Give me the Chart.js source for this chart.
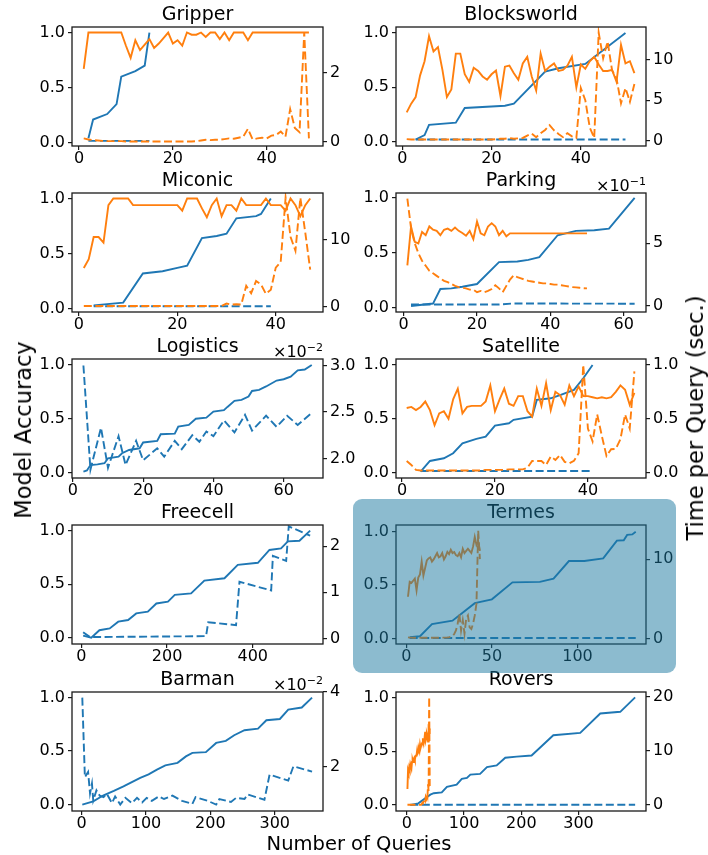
<!DOCTYPE html>
<html><head><meta charset="utf-8">
<script src="https://cdn.jsdelivr.net/npm/chart.js@4.4.0/dist/chart.umd.min.js"></script>
<style>
html,body{margin:0;padding:0;background:#fff;}
body{width:708px;height:855px;position:relative;overflow:hidden;font-family:"DejaVu Sans",sans-serif;}
canvas{position:absolute;}
.lbl{position:absolute;color:#000;white-space:nowrap;transform:translate(-50%,-50%);}
.rot{transform:translate(-50%,-50%) rotate(-90deg);}
#hl{position:absolute;left:353px;top:499px;width:323px;height:174px;border-radius:9px;background:rgba(25,120,160,0.5);}
</style></head><body>
<script>
// ---------------- DATA ----------------
const accTicks = [0, 0.5, 1.0];

// Gripper
const gripperXTicks = [0, 20, 40];
const gripperTimeTicks = [0, 2];
const gripperOrangeAcc = [0.67,1.0,1.0,1.0,1.0,1.0,1.0,1.0,1.0,0.88,0.77,0.93,0.84,0.89,0.94,0.86,0.90,0.95,1.0,0.90,0.93,0.88,1.0,0.98,0.98,1.0,0.96,1.0,1.0,0.94,1.0,0.93,1.0,1.0,1.0,0.93,1.0,1.0,1.0,1.0,1.0,1.0,1.0,1.0,1.0,1.0,1.0,1.0,1.0];
const gripperOrangeTime = [0.10,0.07,0.05,0.04,0.03,0.02,0.02,0.02,0.02,0.01,0.01,0.01,0.01,0.01,0.01,0.01,0.01,0.01,0.01,0.01,0.01,0.01,0.01,0.01,0.02,0.04,0.06,0.05,0.06,0.06,0.08,0.10,0.09,0.12,0.15,0.38,0.07,0.10,0.12,0.10,0.18,0.20,0.30,0.15,0.95,0.40,0.28,3.17,0.10];
const gripperBlueAccX = [2,3,6,8,9,12,14,15];
const gripperBlueAccY = [0.04,0.21,0.26,0.35,0.60,0.65,0.70,1.0];
const gripperBlueTimeX = [2,15];
const gripperBlueTimeY = [0.03,0.03];

// Blocksworld
const bwXTicks = [0, 20, 40];
const bwTimeTicks = [0, 5, 10];
const bwOrangeAcc = [0.27,0.35,0.41,0.61,0.74,0.97,0.83,0.87,0.66,0.41,0.48,0.81,0.81,0.62,0.55,0.68,0.65,0.60,0.57,0.62,0.655,0.42,0.69,0.70,0.63,0.57,0.72,0.78,0.60,0.47,0.81,0.65,0.69,0.72,0.65,0.66,0.70,0.78,0.50,0.71,0.67,0.74,0.78,0.71,0.65,0.65,0.66,0.55,0.89,0.72,0.74,0.63];
const bwOrangeTime = [0.15,0.1,0.1,0.1,0.1,0.1,0.1,0.1,0.1,0.1,0.1,0.1,0.1,0.1,0.1,0.1,0.1,0.1,0.1,0.1,0.15,0.2,0.2,0.3,0.2,0.25,0.3,0.6,0.85,0.4,0.9,1.3,1.9,1.25,0.8,0.4,0.9,0.5,0.3,6.5,5.0,1.6,0.3,13.4,10.2,12.3,8.7,7.7,4.6,6.5,4.8,7.0];
const bwBlueAccX = [3,5,6,12,14,23,25,32,35,41,50];
const bwBlueAccY = [0.02,0.06,0.155,0.175,0.31,0.33,0.35,0.645,0.675,0.715,1.0];
const bwBlueTimeX = [3,50];
const bwBlueTimeY = [0.1,0.1];

// Miconic
const micXTicks = [0, 20, 40];
const micTimeTicks = [0, 10];
const micOrangeAcc = [0.37,0.45,0.65,0.65,0.60,0.94,1.0,1.0,1.0,1.0,0.94,0.94,0.94,0.94,0.94,0.94,0.94,0.94,0.94,0.94,0.89,1.0,1.0,1.0,0.91,0.83,0.94,1.0,0.84,0.94,0.94,0.89,1.0,0.94,0.94,0.94,0.94,1.0,0.94,0.94,0.94,0.89,1.0,0.94,0.84,0.94,1.0];
const micOrangeTime = [0.1,0.1,0.1,0.1,0.1,0.1,0.1,0.1,0.1,0.1,0.1,0.1,0.1,0.1,0.1,0.1,0.1,0.1,0.1,0.1,0.1,0.1,0.1,0.1,0.1,0.1,0.1,0.1,0.1,0.45,0.3,0.35,0.3,3.1,2.0,3.8,3.3,1.9,2.5,5.8,6.6,16.2,10.4,8.3,16.2,11.0,5.5];
const micBlueAccX = [3,9,13,17,20,22,25,28,30,32,36,37,39];
const micBlueAccY = [0.03,0.055,0.32,0.34,0.37,0.39,0.64,0.66,0.68,0.82,0.84,0.86,1.0];
const micBlueTimeX = [3,39];
const micBlueTimeY = [0.05,0.05];

// Parking
const parkXTicks = [0, 20, 40, 60];
const parkTimeTicks = [0, 0.5];
const parkOrangeAcc = [0.385,0.74,0.60,0.585,0.69,0.66,0.74,0.71,0.70,0.66,0.71,0.72,0.70,0.73,0.70,0.68,0.655,0.70,0.625,0.785,0.677,0.66,0.74,0.77,0.74,0.66,0.70,0.65,0.677,0.677,0.677,0.677,0.677,0.677,0.677,0.677,0.677,0.677,0.677,0.677,0.677,0.677,0.677,0.677,0.677,0.677,0.677,0.677,0.677,0.677];
const parkOrangeTime = [0.855,0.62,0.50,0.42,0.36,0.32,0.28,0.26,0.24,0.22,0.20,0.19,0.175,0.16,0.15,0.145,0.14,0.13,0.13,0.11,0.12,0.11,0.12,0.135,0.165,0.14,0.11,0.16,0.21,0.245,0.23,0.22,0.21,0.20,0.195,0.19,0.185,0.18,0.18,0.175,0.17,0.17,0.165,0.16,0.155,0.15,0.148,0.145,0.142,0.14];
const parkBlueAccX = [2,8,10,13,16,20,26,31,34,37,42,47,52,56,63];
const parkBlueAccY = [0.015,0.037,0.17,0.175,0.19,0.215,0.415,0.42,0.435,0.46,0.66,0.70,0.705,0.72,1.0];
const parkBlueTimeX = [2,26,30,63];
const parkBlueTimeY = [0.012,0.012,0.02,0.018];

// Logistics
const logXTicks = [0, 20, 40, 60];
const logTimeTicks = [0.02, 0.025, 0.03];
const logBlueAccX = [3,4,5,7,9,10,13,14,16,19,20,24,25,29,30,33,35,38,40,43,44,46,48,50,51,53,55,58,60,62,64,66,68];
const logBlueAccY = [0.01,0.02,0.07,0.077,0.087,0.133,0.149,0.18,0.21,0.226,0.28,0.294,0.356,0.362,0.427,0.443,0.5,0.51,0.567,0.58,0.61,0.666,0.675,0.706,0.758,0.768,0.80,0.855,0.867,0.89,0.95,0.957,1.0];
const logBlueTimeX = [3,5,8,10,13,15,18,20,24,26,29,31,34,36,38,40,43,46,49,51,55,58,61,64,68];
const logBlueTimeY = [0.0300,0.0188,0.0233,0.0190,0.0224,0.0193,0.0219,0.0198,0.0211,0.0202,0.0219,0.0210,0.0225,0.0218,0.0229,0.0224,0.0241,0.0228,0.0247,0.0230,0.0246,0.0234,0.0246,0.0236,0.0249];

// Satellite
const satXTicks = [0, 20, 40];
const satTimeTicks = [0, 0.5, 1.0];
const satOrangeAcc = [0.60,0.61,0.58,0.61,0.66,0.58,0.44,0.55,0.57,0.50,0.68,0.78,0.55,0.61,0.62,0.62,0.62,0.66,0.81,0.57,0.68,0.78,0.64,0.62,0.71,0.71,0.57,0.52,0.78,0.62,0.83,0.58,0.75,0.72,0.63,0.81,0.71,0.80,0.71,0.71,0.70,0.69,0.70,0.69,0.70,0.75,0.81,0.77,0.63,0.74];
const satOrangeTime = [0.108,0.071,0.025,0.02,0.02,0.02,0.02,0.02,0.02,0.02,0.02,0.02,0.02,0.02,0.02,0.02,0.02,0.025,0.025,0.025,0.025,0.025,0.03,0.03,0.03,0.03,0.046,0.108,0.108,0.108,0.071,0.149,0.118,0.164,0.10,0.087,0.11,0.18,1.0,0.41,0.29,0.54,0.34,0.155,0.217,0.22,0.31,0.54,0.41,0.94];
const satBlueAccX = [4,6,9,11,13,16,18,20,23,24,28,29,32,34,37,39,41];
const satBlueAccY = [0.01,0.108,0.133,0.18,0.272,0.313,0.334,0.437,0.458,0.49,0.52,0.675,0.69,0.72,0.768,0.876,1.0];
const satBlueTimeX = [4,41];
const satBlueTimeY = [0.015,0.015];

// Freecell
const fcXTicks = [0, 200, 400];
const fcTimeTicks = [0, 1, 2];
const fcBlueAccX = [4,23,42,66,86,109,128,155,175,202,218,256,287,334,365,412,439,466,482,509,534];
const fcBlueAccY = [0.02,0.0,0.07,0.087,0.15,0.165,0.227,0.243,0.32,0.336,0.40,0.414,0.533,0.555,0.68,0.70,0.82,0.835,0.90,0.906,1.0];
const fcBlueTimeX = [4,20,291,296,361,369,443,447,478,484,534];
const fcBlueTimeY = [0.135,0.03,0.05,0.35,0.29,1.23,1.04,1.79,1.68,2.43,2.23];

// Termes
const termXTicks = [0, 50, 100];
const termTimeTicks = [0, 10];
const termOrangeAcc = [0.39,0.53,0.52,0.54,0.56,0.45,0.57,0.60,0.72,0.59,0.66,0.73,0.75,0.76,0.72,0.74,0.77,0.80,0.76,0.77,0.80,0.74,0.77,0.81,0.79,0.83,0.80,0.81,0.78,0.77,0.80,0.76,0.84,0.80,0.82,0.84,0.82,0.80,0.86,0.95,0.875,0.906,0.82];
const termOrangeTime = [0.13,0.1,0.1,0.08,0.08,0.08,0.08,0.08,0.08,0.08,0.08,0.08,0.08,0.08,0.08,0.08,0.08,0.08,0.08,0.08,0.1,0.1,0.1,0.12,0.15,0.2,0.3,0.56,1.0,1.85,3.1,1.0,2.3,0.6,2.5,2.9,1.4,1.2,1.85,2.9,4.4,13.6,10.0];
const termBlueAccX = [2,8,15,27,40,50,62,78,86,95,104,115,123,127,129,132,134];
const termBlueAccY = [0.01,0.02,0.134,0.166,0.33,0.366,0.525,0.53,0.56,0.725,0.725,0.75,0.916,0.92,0.97,0.975,1.0];
const termBlueTimeX = [2,134];
const termBlueTimeY = [0.05,0.05];

// Barman
const barXTicks = [0, 100, 200, 300];
const barTimeTicks = [0.02, 0.04];
const barBlueAccX = [1,18,34,50,65,78,91,104,117,130,149,162,172,193,209,224,237,253,274,287,308,321,342,358];
const barBlueAccY = [0.0,0.03,0.087,0.128,0.17,0.21,0.25,0.283,0.327,0.367,0.39,0.45,0.483,0.49,0.576,0.595,0.648,0.695,0.71,0.788,0.80,0.888,0.907,1.0];
const barBlueTimeX = [1,5,10,13,16,18,23,28,34,39,47,52,60,68,78,86,94,101,109,120,128,141,156,172,177,196,209,214,232,240,253,258,284,292,321,329,358];
const barBlueTimeY = [0.0385,0.0173,0.0187,0.0130,0.0156,0.0111,0.0138,0.0124,0.0120,0.0129,0.0104,0.0122,0.0100,0.0118,0.0104,0.0118,0.0106,0.0118,0.0110,0.0122,0.0115,0.0124,0.0110,0.0102,0.0120,0.0110,0.0100,0.0115,0.0107,0.0118,0.0115,0.0127,0.0113,0.0180,0.0164,0.0202,0.0188];

// Rovers
const rovXTicks = [0, 100, 200, 300];
const rovTimeTicks = [0, 10, 20];
const rovOrangeAcc = [0.15,0.32,0.30,0.35,0.33,0.38,0.36,0.34,0.40,0.42,0.40,0.43,0.44,0.42,0.45,0.46,0.47,0.51,0.48,0.49,0.52,0.50,0.56,0.53,0.55,0.55,0.58,0.62,0.57,0.59,0.63,0.68,0.60,0.62,0.66,0.64,0.59,0.69,0.67,0.71];
const rovOrangeTime = [0.05,0.05,0.05,0.05,0.05,0.05,0.05,0.05,0.05,0.05,0.05,0.05,0.05,0.05,0.05,0.05,0.05,0.05,0.05,0.05,0.05,0.05,0.05,0.05,0.05,0.2,0.4,0.3,0.6,0.9,1.1,0.8,1.5,1.2,2.0,1.6,3.8,2.6,19.9,3.5];
const rovBlueAccX = [6,20,41,47,61,70,87,96,105,111,128,140,157,172,192,218,256,303,338,373,399];
const rovBlueAccY = [0.0,0.016,0.097,0.11,0.118,0.17,0.19,0.243,0.252,0.283,0.29,0.352,0.368,0.44,0.45,0.46,0.648,0.67,0.85,0.866,1.0];
const rovBlueTimeX = [6,399];
const rovBlueTimeY = [0.05,0.05];

// ---------------- DRAWING ----------------
const FONT = '"DejaVu Sans", sans-serif';
const BLUE = '#1f77b4', ORANGE = '#ff7f0e';
const colL = [72, 396], colR = [323, 646];
const rowT = [27, 193, 359, 525, 692];
const PH = 119;
const LW = 60, RW = 50, TH = 30, BH = 30;

function seq(n){ return Array.from({length:n}, (_, i) => i + 1); }
function S(xs, ys, color, time){ return {xs, ys, color, time}; }
const i0 = v => v.toFixed(0);

const panels = [
 {title:'Gripper', c:0, r:0, xr:[-1.5,52], xt:gripperXTicks, yl:[-0.03,1.05], yr:[-0.12,3.33], yt:gripperTimeTicks, fmt:i0,
  s:[S(seq(gripperOrangeTime.length),gripperOrangeTime,ORANGE,true),S(gripperBlueTimeX,gripperBlueTimeY,BLUE,true),S(seq(gripperOrangeAcc.length),gripperOrangeAcc,ORANGE,false),S(gripperBlueAccX,gripperBlueAccY,BLUE,false)]},
 {title:'Blocksworld', c:1, r:0, xr:[-1.4,54.6], xt:bwXTicks, yl:[-0.04,1.055], yr:[-0.7,14.1], yt:bwTimeTicks, fmt:i0,
  s:[S(seq(bwOrangeTime.length),bwOrangeTime,ORANGE,true),S(bwBlueTimeX,bwBlueTimeY,BLUE,true),S(seq(bwOrangeAcc.length),bwOrangeAcc,ORANGE,false),S(bwBlueAccX,bwBlueAccY,BLUE,false)]},
 {title:'Miconic', c:0, r:1, xr:[-1.4,49.6], xt:micXTicks, yl:[-0.03,1.05], yr:[-0.8,16.9], yt:micTimeTicks, fmt:i0,
  s:[S(seq(micOrangeTime.length),micOrangeTime,ORANGE,true),S(micBlueTimeX,micBlueTimeY,BLUE,true),S(seq(micOrangeAcc.length),micOrangeAcc,ORANGE,false),S(micBlueAccX,micBlueAccY,BLUE,false)]},
 {title:'Parking', c:1, r:1, xr:[-2.1,66.1], xt:parkXTicks, yl:[-0.04,1.045], yr:[-0.048,0.90], yt:parkTimeTicks, fmt:v=>(v*10).toFixed(0), exp:'\u22121',
  s:[S(seq(parkOrangeTime.length),parkOrangeTime,ORANGE,true),S(parkBlueTimeX,parkBlueTimeY,BLUE,true),S(seq(parkOrangeAcc.length),parkOrangeAcc,ORANGE,false),S(parkBlueAccX,parkBlueAccY,BLUE,false)]},
 {title:'Logistics', c:0, r:2, xr:[-0.25,71.2], xt:logXTicks, yl:[-0.05,1.055], yr:[0.0179,0.0307], yt:logTimeTicks, fmt:v=>(v*100).toFixed(1), exp:'\u22122',
  s:[S(logBlueTimeX,logBlueTimeY,BLUE,true),S(logBlueAccX,logBlueAccY,BLUE,false)]},
 {title:'Satellite', c:1, r:2, xr:[-1.3,52.5], xt:satXTicks, yl:[-0.05,1.055], yr:[-0.05,1.055], yt:satTimeTicks, fmt:v=>v.toFixed(1),
  s:[S(seq(satOrangeTime.length),satOrangeTime,ORANGE,true),S(satBlueTimeX,satBlueTimeY,BLUE,true),S(seq(satOrangeAcc.length),satOrangeAcc,ORANGE,false),S(satBlueAccX,satBlueAccY,BLUE,false)]},
 {title:'Freecell', c:0, r:3, xr:[-22,564], xt:fcXTicks, yl:[-0.059,1.053], yr:[-0.12,2.46], yt:fcTimeTicks, fmt:i0,
  s:[S(fcBlueTimeX,fcBlueTimeY,BLUE,true),S(fcBlueAccX,fcBlueAccY,BLUE,false)]},
 {title:'Termes', c:1, r:3, xr:[-6,140], xt:termXTicks, yl:[-0.053,1.063], yr:[-0.7,14.3], yt:termTimeTicks, fmt:i0,
  s:[S(seq(termOrangeTime.length),termOrangeTime,ORANGE,true),S(termBlueTimeX,termBlueTimeY,BLUE,true),S(seq(termOrangeAcc.length),termOrangeAcc,ORANGE,false),S(termBlueAccX,termBlueAccY,BLUE,false)]},
 {title:'Barman', c:0, r:4, xr:[-15,375], xt:barXTicks, yl:[-0.06,1.052], yr:[0.0083,0.0400001], yt:barTimeTicks, fmt:v=>(v*100).toFixed(0), exp:'\u22122',
  s:[S(barBlueTimeX,barBlueTimeY,BLUE,true),S(barBlueAccX,barBlueAccY,BLUE,false)]},
 {title:'Rovers', c:1, r:4, xr:[-19,418], xt:rovXTicks, yl:[-0.055,1.05], yr:[-1.1,20.8], yt:rovTimeTicks, fmt:i0,
  s:[S(seq(rovOrangeTime.length),rovOrangeTime,ORANGE,true),S(rovBlueTimeX,rovBlueTimeY,BLUE,true),S(seq(rovOrangeAcc.length),rovOrangeAcc,ORANGE,false),S(rovBlueAccX,rovBlueAccY,BLUE,false)]}
];

const framePlugin = {id:'frame', afterDraw(chart){
  const {ctx, chartArea:a} = chart;
  ctx.save(); ctx.strokeStyle = '#1a1a1a'; ctx.lineWidth = 1.3;
  ctx.strokeRect(a.left, a.top, a.right - a.left, a.bottom - a.top); ctx.restore();
}};
const offsetPlugin = {id:'offset', afterDraw(chart, args, opts){
  if (!opts || !opts.exp) return;
  const {ctx, chartArea:a} = chart;
  ctx.save(); ctx.fillStyle = '#000'; ctx.textBaseline = 'alphabetic'; ctx.textAlign = 'right';
  ctx.font = '11px ' + FONT; const sw = ctx.measureText(opts.exp).width;
  ctx.fillText(opts.exp, a.right, a.top - 8);
  ctx.font = '16px ' + FONT; ctx.fillText('\u00d710', a.right - sw, a.top - 2);
  ctx.restore();
}};

function tickAxis(extra){
  return Object.assign({
    grid:{drawOnChartArea:false, drawTicks:true, tickLength:4, color:'#1a1a1a', lineWidth:1.2},
    border:{display:false},
  }, extra);
}

panels.forEach(p => {
  const L = colL[p.c], R = colR[p.c], T = rowT[p.r];
  const cv = document.createElement('canvas');
  cv.width = R - L + LW + RW; cv.height = PH + TH + BH;
  cv.style.left = (L - LW) + 'px'; cv.style.top = (T - TH) + 'px';
  document.body.appendChild(cv);
  const datasets = p.s.map(s => ({
    data: s.xs.map((x, i) => ({x, y: s.ys[i]})),
    yAxisID: s.time ? 'y1' : 'y',
    borderColor: s.color, backgroundColor: s.color,
    borderWidth: 1.9, borderDash: s.time ? [8, 3.5] : [],
    pointRadius: 0, tension: 0, fill: false
  }));
  new Chart(cv, {
    type: 'line',
    data: {datasets},
    options: {
      responsive: false, animation: false, devicePixelRatio: 1,
      layout: {padding: 0},
      plugins: {
        legend: {display: false}, tooltip: {enabled: false},
        title: {display: true, text: p.title, fullSize: false, color: '#000',
          font: {family: FONT, size: 19, weight: 'normal', lineHeight: 1}, padding: {top: 8.5, bottom: 2.5}},
        offset: {exp: p.exp || null}
      },
      scales: {
        x: tickAxis({type: 'linear', min: p.xr[0], max: p.xr[1],
          afterBuildTicks: s => { s.ticks = p.xt.map(v => ({value: v})); },
          afterFit: s => { s.height = BH; },
          ticks: {color: '#000', font: {family: FONT, size: 16, lineHeight: 1}, padding: 1, maxRotation: 0, autoSkip: false, callback: v => String(v)}}),
        y: tickAxis({type: 'linear', position: 'left', min: p.yl[0], max: p.yl[1],
          afterBuildTicks: s => { s.ticks = accTicks.map(v => ({value: v})); },
          afterFit: s => { s.width = LW; },
          ticks: {color: '#000', font: {family: FONT, size: 16}, padding: 3, autoSkip: false, callback: v => v.toFixed(1)}}),
        y1: tickAxis({type: 'linear', position: 'right', min: p.yr[0], max: p.yr[1],
          afterBuildTicks: s => { s.ticks = p.yt.map(v => ({value: v})); },
          afterFit: s => { s.width = RW; },
          ticks: {color: '#000', font: {family: FONT, size: 16}, padding: 3, autoSkip: false, callback: v => p.fmt(v)}})
      }
    },
    plugins: [framePlugin, offsetPlugin]
  });
});

const hl = document.createElement('div'); hl.id = 'hl'; document.body.appendChild(hl);
function label(text, x, y, rot, size){
  const d = document.createElement('div'); d.className = 'lbl' + (rot ? ' rot' : '');
  d.textContent = text; d.style.left = x + 'px'; d.style.top = y + 'px'; d.style.fontSize = size + 'px';
  document.body.appendChild(d);
}
label('Model Accuracy', 23, 430, true, 22.5);
label('Time per Query (sec.)', 695, 418, true, 22.5);
label('Number of Queries', 359, 843, false, 19.5);
</script>
</body></html>
